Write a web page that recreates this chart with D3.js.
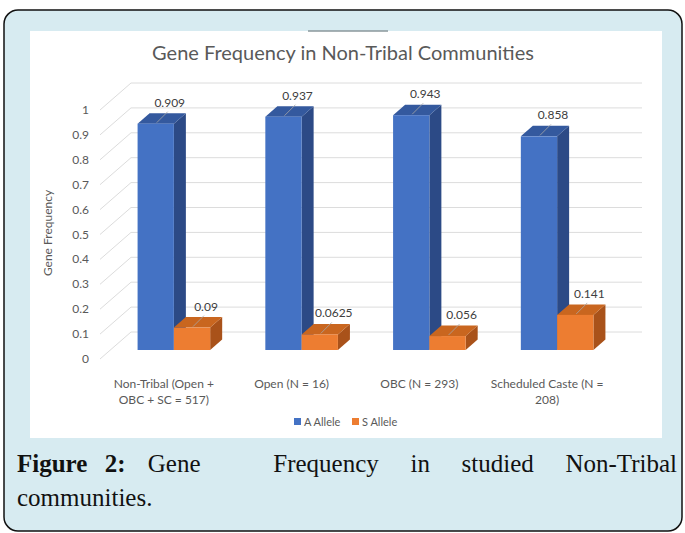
<!DOCTYPE html>
<html>
<head>
<meta charset="utf-8">
<script src="https://cdn.jsdelivr.net/npm/d3@7"></script>
<style>
  body { margin: 0; background: #fff; }
  text { font-family: Lato, "Open Sans", sans-serif; }
</style>
</head>
<body>
<svg id="chart" width="685" height="533"></svg>
<script>
// data
var categories = [["Non-Tribal (Open +", "OBC + SC = 517)"], ["Open (N = 16)"], ["OBC (N = 293)"], ["Scheduled Caste (N =", "208)"]];
var series = ["A Allele", "S Allele"];
var aAllele = [0.909, 0.937, 0.943, 0.858];
var sAllele = [0.09, 0.0625, 0.056, 0.141];
var yTicks = [0, 0.1, 0.2, 0.3, 0.4, 0.5, 0.6, 0.7, 0.8, 0.9, 1];

var colors = {
  "A Allele": { front: "#4472c4", top: "#34599e", side: "#2c4a86" },
  "S Allele": { front: "#ed7d31", top: "#c9661f", side: "#a9521a" }
};

var svg = d3.select("#chart");

// page background + frame
svg.append("rect").attr("x", 4).attr("y", 10).attr("width", 678).attr("height", 521)
  .attr("rx", 14).attr("fill", "#d7ebf1").attr("stroke", "#111").attr("stroke-width", 1.5);
svg.append("rect").attr("x", 30).attr("y", 31).attr("width", 632).attr("height", 407).attr("fill", "#fff");
svg.append("line").attr("x1", 308).attr("x2", 388).attr("y1", 31).attr("y2", 31)
  .attr("stroke", "#8a979b").attr("stroke-width", 1.5);

// title
svg.append("text").attr("x", 343).attr("y", 60).attr("text-anchor", "middle")
  .style("font-size", "20px").style("fill", "#595959").text("Gene Frequency in Non-Tribal Communities");

// 3d-ish geometry
var depth = { x: 31, y: -27 };       // floor depth (front -> back wall)
var barOff = { x: 10, y: -9 };       // front face of bars
var barDepth = { x: 12, y: -10.5 };  // depth of each bar

var y = d3.scaleLinear().domain([0, 1]).range([359, 110]);
var x = d3.scaleBand().domain(d3.range(categories.length)).range([100, 611]);
var xs = d3.scaleBand().domain(series).range([0, x.bandwidth()]).paddingOuter(0.76);

// gridlines: side wall diagonals + back wall lines
var grid = svg.append("g").attr("stroke", "#dcdcdc").attr("stroke-width", 1);
grid.selectAll(".diag").data(yTicks).enter().append("line")
  .attr("x1", x.range()[0]).attr("y1", d => y(d))
  .attr("x2", x.range()[0] + depth.x).attr("y2", d => y(d) + depth.y);
grid.selectAll(".back").data(yTicks).enter().append("line")
  .attr("x1", x.range()[0] + depth.x).attr("y1", d => y(d) + depth.y)
  .attr("x2", x.range()[1] + depth.x).attr("y2", d => y(d) + depth.y);

svg.selectAll(".ytick").data(yTicks).enter().append("text")
  .attr("x", 89).attr("y", d => y(d) + 4).attr("text-anchor", "end")
  .style("font-size", "12px").style("fill", "#595959").text(d => d);

svg.append("text").attr("transform", "translate(52,233) rotate(-90)").attr("text-anchor", "middle")
  .style("font-size", "12px").style("fill", "#595959").text("Gene Frequency");

// bars
var rows = [];
categories.forEach(function (c, i) {
  rows.push({ i: i, s: "A Allele", v: aAllele[i] });
  rows.push({ i: i, s: "S Allele", v: sAllele[i] });
});

var bars = svg.selectAll(".bar").data(rows).enter().append("g").attr("class", "bar");
function fx(d) { return x(d.i) + xs(d.s) + barOff.x; }
function fy(d) { return y(d.v) + barOff.y; }
var by = y(0) + barOff.y;
var w = xs.bandwidth();

bars.append("polygon").attr("fill", d => colors[d.s].side)
  .attr("points", d => [[fx(d) + w, fy(d)], [fx(d) + w + barDepth.x, fy(d) + barDepth.y],
    [fx(d) + w + barDepth.x, by + barDepth.y], [fx(d) + w, by]].join(" "));
bars.append("polygon").attr("fill", d => colors[d.s].top)
  .attr("points", d => [[fx(d), fy(d)], [fx(d) + barDepth.x, fy(d) + barDepth.y],
    [fx(d) + w + barDepth.x, fy(d) + barDepth.y], [fx(d) + w, fy(d)]].join(" "));
bars.append("rect").attr("fill", d => colors[d.s].front)
  .attr("x", fx).attr("y", fy).attr("width", w).attr("height", d => by - fy(d));

// value labels with leader lines
bars.append("line").attr("stroke", "#a6a6a6").attr("stroke-width", 0.8)
  .attr("x1", d => fx(d) + w / 2 + 1).attr("y1", d => fy(d) - 1)
  .attr("x2", d => fx(d) + w / 2 + 12).attr("y2", d => fy(d) - 12);
bars.append("text").attr("text-anchor", "middle")
  .attr("x", d => fx(d) + w / 2 + 14).attr("y", d => fy(d) - 17)
  .style("font-size", "12px").style("fill", "#404040").text(d => d.v);

// category labels
var cat = svg.selectAll(".cat").data(categories).enter().append("text")
  .attr("text-anchor", "middle").style("font-size", "12px").style("fill", "#595959");
cat.selectAll("tspan").data((d, i) => d.map(t => ({ t: t, i: i }))).enter().append("tspan")
  .attr("x", d => x(d.i) + x.bandwidth() / 2).attr("y", (d, k) => 388 + k * 16).text(d => d.t);

// legend
var leg = svg.selectAll(".leg").data(series).enter().append("g")
  .attr("transform", (d, i) => "translate(" + (294 + i * 58) + ",418)");
leg.append("rect").attr("width", 7).attr("height", 7).attr("fill", d => colors[d].front);
leg.append("text").attr("x", 10).attr("y", 8).style("font-size", "11px").style("fill", "#595959").text(d => d);

// caption (justified)
var capWords = [{ t: "Figure", b: 1, g: 0 }, { t: "2:", b: 1, g: 0.55 }, { t: "Gene", g: 0.7 }, { t: "Frequency", g: 2.3 },
  { t: "in", g: 1 }, { t: "studied", g: 1 }, { t: "Non-Tribal", g: 1 }];
var capLeft = 17, capRight = 677, capY = 472, capFont = "25px";
var cw = svg.selectAll(".cap").data(capWords).enter().append("text")
  .attr("y", capY).style("font-family", "'Liberation Serif', serif").style("font-size", capFont)
  .style("font-weight", d => d.b ? "bold" : "normal").style("fill", "#111").text(d => d.t);
var widths = [];
cw.each(function () { widths.push(this.getComputedTextLength()); });
var unit = (capRight - capLeft - d3.sum(widths)) / d3.sum(capWords, d => d.g);
var cx = capLeft;
cw.attr("x", function (d, i) { cx += d.g * unit; var p = cx; cx += widths[i]; return p; });
svg.append("text").attr("x", capLeft).attr("y", capY + 34)
  .style("font-family", "'Liberation Serif', serif").style("font-size", capFont).style("fill", "#111")
  .text("communities.");
</script>
</body>
</html>
